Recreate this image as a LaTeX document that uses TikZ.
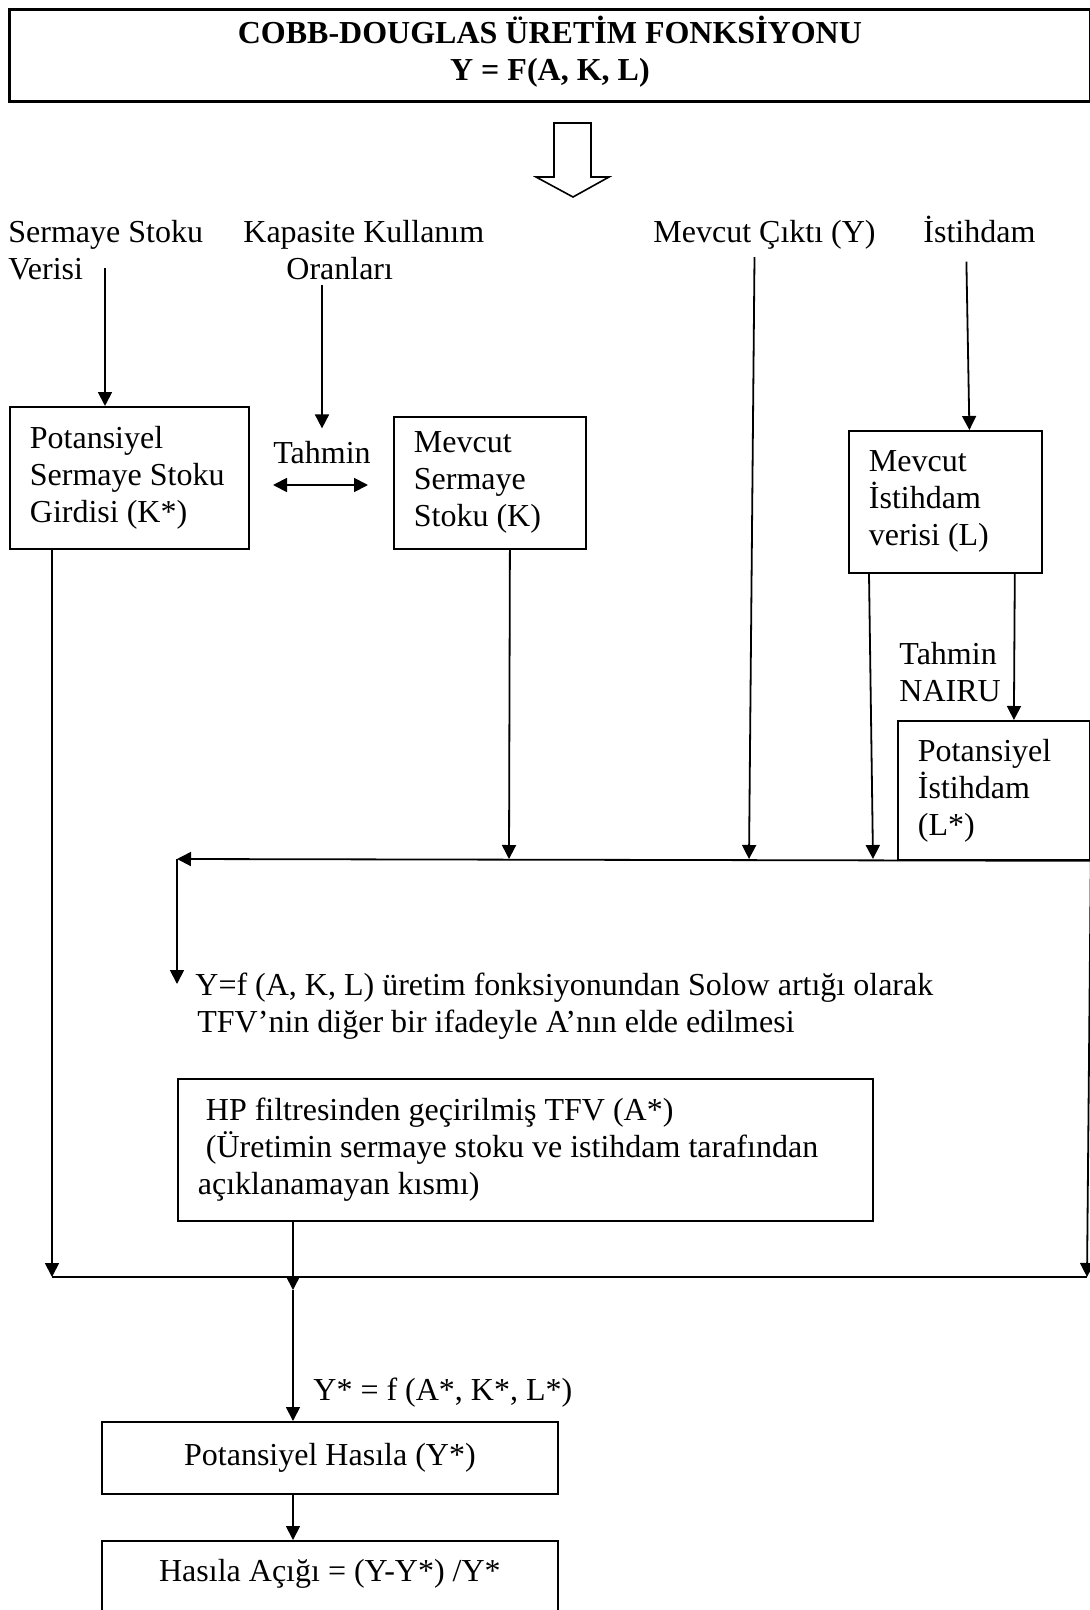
\documentclass[tikz,border=0pt]{standalone}
\usepackage{fontspec}
\setmainfont{Liberation Serif}
\usetikzlibrary{arrows.meta}

\begin{document}
\begin{tikzpicture}[x=0.5pt, y=-0.5pt, every node/.style={font=\fontsize{16pt}{18.5pt}\selectfont}, kutu/.style={draw, line width=0.9pt, align=left, inner xsep=10pt, anchor=north west, execute at begin node={\spaceskip=0pt\relax}}, yazi/.style={anchor=base west, align=left, inner sep=0pt}, ok/.style={line width=0.9pt, -{Triangle[length=7pt, width=7pt]}}, ciftok/.style={line width=0.9pt, {Triangle[length=7pt, width=7pt]}-{Triangle[length=7pt, width=7pt]}}, cizgi/.style={line width=0.9pt}]
	\useasboundingbox (0,0) rectangle (1090,1610);
	\clip (0,0) rectangle (1090,1610);
	\node[draw, line width=1.4pt, anchor=north west, minimum width=540.5pt, minimum height=45.5pt, align=center, font=\fontsize{16pt}{18.5pt}\selectfont\bfseries] (baslik) at (8,8) {COBB-DOUGLAS ÜRETİM FONKSİYONU\\Y = F(A, K, L)\rule[-7pt]{0pt}{7pt}};
	\draw[line width=0.8pt] (554,123) -- (591,123) -- (591,177) -- (609,177) -- (573,197) -- (536,177) -- (554,177) -- cycle;
	\node[yazi] (sermaye) at (8,280) {Sermaye Stoku\\Verisi};
	\node[yazi] (kapasite) at (243,280) {Kapasite Kullanım\\\hspace*{21.5pt}Oranları};
	\node[yazi] (cikti) at (653,243) {Mevcut Çıktı (Y)};
	\node[yazi] (istihdam) at (923,243) {İstihdam};
	\node[kutu, text width=99.5pt, minimum height=71pt] (ks) at (9,406) {Potansiyel\\Sermaye Stoku\\Girdisi (K*)};
	\node[anchor=base, inner sep=0pt] (tahmin) at (322,463) {Tahmin};
	\node[kutu, text width=76pt, minimum height=66pt] (mk) at (393,416) {Mevcut\\Sermaye\\Stoku (K)};
	\node[kutu, text width=76.5pt, minimum height=71pt] (mL) at (848,430) {Mevcut\\İstihdam\\verisi (L)};
	\node[yazi] (nairu) at (899,701) {Tahmin\\NAIRU};
	\node[kutu, text width=76pt, minimum height=69.5pt] (Ls) at (897,720) {Potansiyel\\İstihdam\\(L*)};
	\node[yazi] (solow) at (195,1032) {Y=f (A, K, L) üretim fonksiyonundan Solow artığı olarak\\\hspace*{1pt}TFV’nin diğer bir ifadeyle A’nın elde edilmesi};
	\node[kutu, text width=327.5pt, minimum height=71pt] (hp) at (177,1078) {\hspace*{4pt}HP filtresinden geçirilmiş TFV (A*)\\\hspace*{4pt}(Üretimin sermaye stoku ve istihdam tarafından\\açıklanamayan kısmı)};
	\node[yazi] (ystar) at (313,1400) {Y* = f (A*, K*, L*)};
	\node[draw, line width=0.9pt, anchor=north west, minimum width=228pt, minimum height=36pt] (ph) at (101,1421) {Potansiyel Hasıla (Y*)};
	\node[draw, line width=0.9pt, anchor=north west, minimum width=228pt, text height=12pt, text depth=50pt, inner ysep=8.5pt] (acik) at (101,1540) {Hasıla Açığı = (Y-Y*) /Y*};
	\coordinate (s-ok) at (105,268);
	\coordinate (ta-sol) at (273,485);
	\coordinate (ta-sag) at (368,485);
	\coordinate (c-sol) at (177,859);
	\coordinate (c-K) at (509,859);
	\coordinate (c-Y) at (749,859);
	\coordinate (c-L) at (873,859);
	\coordinate (solow-ok) at (177,984);
	\coordinate (alt-sol) at (52,1277);
	\coordinate (alt-sag) at (1087,1277);
	\coordinate (alt-hp) at (293,1277);
	\draw[ok] (s-ok) -- (ks.north -| s-ok);
	\draw[ok] ([yshift=-2pt]kapasite.south -| tahmin.north) -- ([yshift=6pt]tahmin.north);
	\draw[ciftok] (ta-sol) -- (ta-sag);
	\draw[ok] ([xshift=-5pt, yshift=-3.5pt]cikti.south) -- (c-Y);
	\draw[ok] ([xshift=-6.5pt, yshift=-9pt]istihdam.south) -- ([xshift=12pt]mL.north);
	\draw[ok] ([xshift=10pt]mk.south) -- (c-K);
	\draw[ok] ([xshift=10.5pt]mL.south west) -- (c-L);
	\draw[ok] ([xshift=-14pt]mL.south east) -- ([xshift=10pt]Ls.north);
	\draw[ok] (Ls.south east) -- (c-sol);
	\draw[ok] (c-sol) -- (solow-ok);
	\draw[ok] ([xshift=21.5pt]ks.south west) -- (alt-sol);
	\draw[ok] (Ls.south east) -- (alt-sag);
	\draw[cizgi] (alt-sol) -- (alt-sag);
	\draw[ok] (hp.south -| alt-hp) -- ([yshift=-6.5pt]alt-hp);
	\draw[ok] ([yshift=-6.5pt]alt-hp) -- (ph.north -| alt-hp);
	\draw[ok] (ph.south -| alt-hp) -- (acik.north -| alt-hp);
\end{tikzpicture}
\end{document}
